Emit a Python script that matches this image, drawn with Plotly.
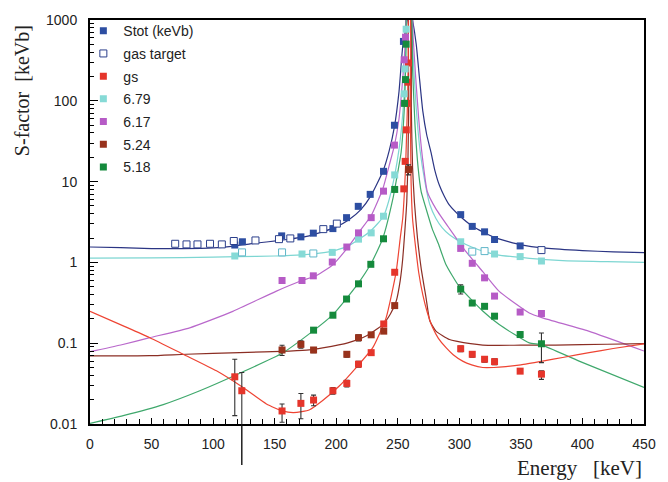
import math
import plotly.graph_objects as go

# ---------------- measured S-factors (keV b) ----------------
stot_E = [117.6, 123.8, 155.7, 171.3, 181.4, 197.3, 208.4, 217.9, 227.6, 238.4,
          247.3, 254.6, 301.1, 310.5, 320.5, 328.6, 349.4]
stot_S = [1.64, 1.80, 2.13, 2.07, 2.30, 2.62, 3.58, 4.94, 6.95, 13.4,
          49.8, 543, 3.90, 2.79, 2.39, 1.92, 1.60]

gas_E = [69.2, 78.4, 87.3, 97.5, 107.1, 116.8, 134.4, 153.5, 162.7, 189.5, 200.5, 366.7]
gas_S = [1.70, 1.67, 1.67, 1.70, 1.67, 1.84, 1.87, 1.94, 1.98, 2.58, 3.02, 1.42]

gas679_E = [123.5, 156.0, 181.4, 310.5, 320.5]
gas679_S = [1.33, 1.33, 1.29, 1.36, 1.38]

gs_E = [117.6, 123.3, 156.0, 171.3, 181.6, 197.3, 208.6, 218.1, 228.4, 238.6, 247.5,
        254.9, 256.0, 256.9, 257.6, 258.2, 258.7,
        301.1, 310.5, 320.5, 328.6, 349.4, 366.7]
gs_S = [0.0384, 0.0258, 0.0145, 0.0180, 0.0198, 0.0258, 0.0318, 0.055, 0.0764, 0.173, 0.755,
        8.13, 17.8, 43.7, 92.9, 170, 294,
        0.0855, 0.0729, 0.0633, 0.0591, 0.0451, 0.0414]
gs_err_hi = [0.0249, 0.0175, 0.0032, 0.0059, 0.0030, 0.0025, 0.0030, 0.0045, 0.0040, 0.008, 0.03,
             0.4, 0.9, 2.0, 4.0, 7.0, 12.0,
             0.007, 0.006, 0.005, 0.005, 0.002, 0.0042]
gs_err_lo = [0.0257, 0.0227, 0.0040, 0.0064, 0.0030, 0.0025, 0.0030, 0.0045, 0.0040, 0.008, 0.03,
             0.4, 0.9, 2.0, 4.0, 7.0, 12.0,
             0.007, 0.006, 0.005, 0.005, 0.002, 0.0057]

s679_E = [117.6, 172.2, 196.8, 218.1, 228.4, 238.4, 247.5, 255.2, 256.0, 256.8,
          301.1, 328.6, 349.4, 366.7]
s679_S = [1.20, 1.27, 1.33, 1.94, 2.32, 3.73, 12.1, 122, 248, 769,
          1.80, 1.27, 1.18, 1.04]

s617_E = [156.0, 172.2, 181.4, 196.8, 208.6, 218.1, 228.4, 238.4, 247.3, 255.2, 256.3,
          301.1, 310.5, 320.5, 328.6, 349.4, 366.7]
s617_S = [0.597, 0.597, 0.682, 1.01, 1.55, 2.32, 3.58, 7.62, 28.3, 322, 613,
          1.49, 0.975, 0.644, 0.383, 0.243, 0.233]

s524_E = [156.0, 171.3, 181.6, 208.6, 218.1, 228.4, 238.6, 247.5, 258.7]
s524_S = [0.0824, 0.0968, 0.0824, 0.0729, 0.117, 0.127, 0.141, 0.292, 14.1]
s524_err = [0.012, 0.010, 0.006, 0.006, 0.010, 0.006, 0.007, 0.015, 2.0]

s518_E = [181.6, 197.3, 208.4, 218.1, 228.1, 238.4, 247.5, 255.5, 256.3, 256.8,
          301.1, 310.5, 320.5, 328.6, 349.4, 366.7]
s518_S = [0.145, 0.222, 0.352, 0.543, 0.947, 1.96, 8.0, 92.9, 183, 502,
          0.467, 0.314, 0.286, 0.216, 0.128, 0.0984]
s518_err_hi = [0.006, 0.008, 0.012, 0.02, 0.03, 0.06, 0.3, 3, 6, 15,
               0.06, 0.02, 0.015, 0.012, 0.01, 0.0356]
s518_err_lo = [0.006, 0.008, 0.012, 0.02, 0.03, 0.06, 0.3, 3, 6, 15,
               0.06, 0.02, 0.015, 0.012, 0.01, 0.0409]

# ---------------- R-matrix fit curves ----------------
fit_stot_E = [0, 25, 50, 75, 100, 115, 130, 145, 160, 175, 190, 200, 210, 220, 228, 238,
              243, 247.3, 251, 254, 256, 258, 260, 262, 265, 267.5, 270.3, 273.5, 277,
              280, 283.8, 288, 292, 300, 310, 320, 330, 350, 370, 400, 425, 450]
fit_stot_S = [1.55, 1.52, 1.48, 1.48, 1.51, 1.58, 1.70, 1.80, 1.92, 2.08, 2.42, 2.75, 3.35,
              4.5, 6.6, 13.5, 24, 48, 130, 470, 700, 1050, 1400, 1000, 500, 200, 75, 38,
              23, 14, 9.0, 6.5, 5.1, 3.8, 2.85, 2.35, 2.0, 1.65, 1.5, 1.4, 1.35, 1.32]

fit_679_E = [0, 50, 100, 120, 150, 172, 190, 200, 210, 220, 228, 238.4, 243, 247.5, 251,
             253.5, 255.2, 256, 256.8, 257.5, 260.5, 261.5, 263, 265, 268, 272, 276, 281,
             286, 292, 301, 310, 319, 330, 357, 384, 420, 450]
fit_679_S = [1.13, 1.14, 1.16, 1.18, 1.20, 1.24, 1.32, 1.42, 1.60, 2.0, 2.45, 3.7, 6.0,
             12, 25, 55, 122, 248, 700, 1500, 1500, 700, 250, 80, 25, 10, 5.2, 3.5, 2.7,
             2.2, 1.8, 1.55, 1.38, 1.25, 1.12, 1.05, 1.02, 1.0]

fit_617_E = [0, 25, 48.6, 81, 116, 151, 170, 184, 197, 209, 219, 228.4, 237.8, 243,
             247.3, 251, 253.5, 255.2, 256.3, 257.2, 261, 262.5, 264.5, 267, 270, 274,
             281, 292, 305.4, 319, 332.4, 356.8, 367.6, 405, 450]
fit_617_S = [0.0785, 0.095, 0.117, 0.155, 0.248, 0.438, 0.58, 0.69, 0.93, 1.5, 2.42, 3.8,
             8.1, 15.8, 28, 60, 150, 322, 613, 1500, 1500, 600, 200, 60, 20, 7.5,
             4.6, 2.62, 1.36, 0.77, 0.438, 0.237, 0.206, 0.141, 0.080]

fit_524_E = [0, 48.6, 78, 121.6, 162, 178, 189, 209.4, 224.3, 237.8, 244, 248.7, 252,
             254, 255.5, 257.3, 258.3, 258.9, 259.3, 260.3, 261, 262, 263.5, 266, 269,
             273, 276, 281, 292, 297.3, 319, 350, 378.4, 420, 450]
fit_524_S = [0.0695, 0.0700, 0.073, 0.0764, 0.080, 0.0825, 0.0875, 0.101, 0.1225, 0.170,
             0.23, 0.33, 0.6, 1.1, 2.18, 5.6, 20, 100, 1500, 1500, 80, 15, 5.6, 2.0,
             0.845, 0.362, 0.19, 0.141, 0.111, 0.106, 0.0948, 0.0945, 0.0948, 0.097, 0.099]

fit_518_E = [0, 27, 59.5, 89.2, 123, 156, 181, 197.3, 208, 218, 228.4, 237.8, 246, 250,
             252.7, 255.5, 256.8, 257.5, 260.5, 262, 264, 266.5, 269, 272, 278, 283, 289,
             300, 319, 332.4, 356.8, 366.7, 397.3, 450]
fit_518_S = [0.0102, 0.0127, 0.0174, 0.0258, 0.0434, 0.075, 0.141, 0.226, 0.352, 0.553,
             0.975, 1.98, 6.1, 13.1, 23, 92, 500, 1500, 1500, 250, 50, 15, 7.5, 5.2,
             2.6, 1.7, 0.95, 0.5, 0.25, 0.170, 0.101, 0.0955, 0.060, 0.0283]

fit_gs_E = [0, 27, 48.6, 75.7, 102.7, 124.3, 143.3, 156.8, 165, 172, 178.4, 189, 202.7,
            216.2, 229.7, 240.5, 248.7, 252, 254, 255.5, 256.5, 257.3, 258, 258.5, 259,
            259.8, 260.3, 260.8, 262, 264.9, 267, 270.3, 274, 278.4, 283, 289.2, 295,
            302.7, 310, 319, 328, 337.8, 350, 367.6, 385, 405.4, 425, 450]
fit_gs_S = [0.248, 0.164, 0.117, 0.073, 0.0455, 0.0283, 0.0177, 0.0144, 0.0138, 0.0142,
            0.0150, 0.0195, 0.0297, 0.0499, 0.088, 0.206, 0.77, 2.0, 3.5, 8, 18, 45, 110,
            300, 1500, 1500, 60, 10, 3.5, 1.36, 0.75, 0.398, 0.24, 0.155, 0.115, 0.088,
            0.072, 0.060, 0.054, 0.050, 0.050, 0.0513, 0.054, 0.060, 0.067, 0.0764,
            0.086, 0.098]

# ---------------- colours ----------------
C_STOT, L_STOT = "#2D4EA2", "#2B3584"
C_GS, L_GS = "#E5352B", "#EE4433"
C_679, L_679 = "#86DAD6", "#7DD6D2"
C_617, L_617 = "#B65BC6", "#B968CB"
C_524, L_524 = "#98321C", "#8B2E24"
C_518, L_518 = "#158A3C", "#3FA86C"
ERR = "#333333"

Y_RANGE = [-2, 3]

fig = go.Figure()

# fit curves underneath the data
for E, S, col in [(fit_stot_E, fit_stot_S, L_STOT), (fit_679_E, fit_679_S, L_679),
                  (fit_617_E, fit_617_S, L_617), (fit_524_E, fit_524_S, L_524),
                  (fit_518_E, fit_518_S, L_518), (fit_gs_E, fit_gs_S, L_GS)]:
    fig.add_trace(go.Scatter(x=E, y=S, mode="lines", showlegend=False,
                             line=dict(color=col, width=1.2, shape="spline", smoothing=0.5),
                             hoverinfo="skip"))


def rel_err(vals, frac):
    return [v * frac for v in vals]


def marker(col, line_col=None, fill=None):
    return dict(symbol="square", size=7, color=fill if fill else col,
                line=dict(color=line_col if line_col else col, width=1 if line_col else 0))


def ebar(arr, arrminus=None):
    d = dict(type="data", array=arr, color=ERR, thickness=1.1, width=2.5, visible=True)
    if arrminus is not None:
        d["symmetric"] = False
        d["arrayminus"] = arrminus
    return d


fig.add_trace(go.Scatter(x=stot_E, y=stot_S, mode="markers", name="Stot (keVb)",
                         legendgroup="a", marker=marker(C_STOT),
                         error_y=ebar(rel_err(stot_S, 0.04))))
fig.add_trace(go.Scatter(x=gas_E, y=gas_S, mode="markers", name="gas target",
                         legendgroup="b", marker=marker(C_STOT, "#2B3F8C", "white"),
                         error_y=ebar(rel_err(gas_S, 0.07))))
fig.add_trace(go.Scatter(x=gs_E, y=gs_S, mode="markers", name="gs", legendgroup="c",
                         marker=marker(C_GS), cliponaxis=False,
                         error_y=ebar(gs_err_hi, gs_err_lo)))
fig.add_trace(go.Scatter(x=s679_E, y=s679_S, mode="markers", name="6.79", legendgroup="d",
                         marker=marker(C_679), error_y=ebar(rel_err(s679_S, 0.04))))
fig.add_trace(go.Scatter(x=gas679_E, y=gas679_S, mode="markers", showlegend=False,
                         legendgroup="d", marker=marker(C_679, "#5FB6C8", "white"),
                         error_y=ebar(rel_err(gas679_S, 0.05))))
fig.add_trace(go.Scatter(x=s617_E, y=s617_S, mode="markers", name="6.17", legendgroup="e",
                         marker=marker(C_617), error_y=ebar(rel_err(s617_S, 0.05))))
fig.add_trace(go.Scatter(x=s524_E, y=s524_S, mode="markers", name="5.24", legendgroup="f",
                         marker=marker(C_524), error_y=ebar(s524_err)))
fig.add_trace(go.Scatter(x=s518_E, y=s518_S, mode="markers", name="5.18", legendgroup="g",
                         marker=marker(C_518), error_y=ebar(s518_err_hi, s518_err_lo)))

# the lower error bar of the 123 keV gs point runs past the axis: continue it below the frame
i_low = 1
low_end = gs_S[i_low] - gs_err_lo[i_low]
low_paper = (math.log10(low_end) - Y_RANGE[0]) / (Y_RANGE[1] - Y_RANGE[0])
shapes = [dict(type="line", xref="x", yref="paper", x0=gs_E[i_low], x1=gs_E[i_low],
               y0=low_paper, y1=0, line=dict(color="#111111", width=1.4), layer="above")]

y_major = [0.01, 0.1, 1, 10, 100, 1000]
y_major_text = ["0.01", "0.1", "1", "10", "100", "1000"]
y_minor = [m * d for d in [0.01, 0.1, 1, 10, 100] for m in range(2, 10)]

fig.update_layout(
    width=668, height=482,
    margin=dict(l=90, r=23, t=17, b=58),
    paper_bgcolor="white", plot_bgcolor="white",
    font=dict(family="Liberation Sans, Arial, sans-serif", size=14, color="#222"),
    showlegend=True,
    legend=dict(x=-0.012, y=1.012, xanchor="left", yanchor="top",
                bgcolor="rgba(0,0,0,0)", font=dict(size=14, color="#222"),
                traceorder="grouped", tracegroupgap=1.5),
    shapes=shapes,
    xaxis=dict(range=[0, 450], tickvals=list(range(0, 451, 50)),
               ticks="inside", ticklen=6, tickwidth=1, tickcolor="black",
               minor=dict(ticks="inside", ticklen=5, tickwidth=1, tickcolor="black", dtick=10),
               showline=True, linewidth=2, linecolor="black", mirror=True,
               showgrid=False, zeroline=False, ticklabelstandoff=6),
    yaxis=dict(type="log", range=Y_RANGE, tickvals=y_major, ticktext=y_major_text,
               ticks="inside", ticklen=8, tickwidth=1, tickcolor="black",
               minor=dict(ticks="inside", ticklen=4, tickwidth=1, tickcolor="black",
                          tickvals=y_minor),
               showline=True, linewidth=2, linecolor="black", mirror=True,
               showgrid=False, zeroline=False, ticklabelstandoff=8),
    annotations=[
        dict(text="Energy\u00a0\u00a0\u00a0[keV]", xref="paper", yref="paper", x=1.0, y=-0.11,
             xanchor="right", yanchor="middle", showarrow=False,
             font=dict(family="Liberation Serif, Times New Roman, serif", size=21, color="#222")),
        dict(text="S-factor\u00a0\u00a0[keVb]", xref="paper", yref="paper", x=-0.123, y=0.826,
             xanchor="center", yanchor="middle", textangle=-90, showarrow=False,
             font=dict(family="Liberation Serif, Times New Roman, serif", size=20, color="#222")),
    ],
)

fig.write_html("out.html")
